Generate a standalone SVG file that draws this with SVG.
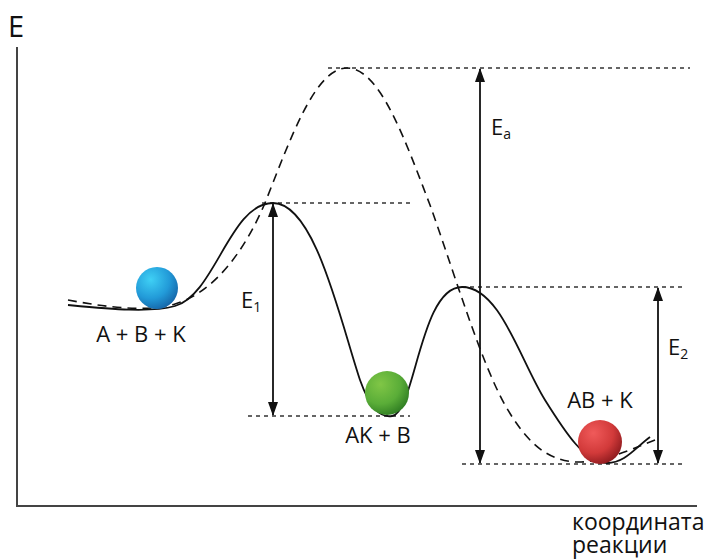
<svg xmlns="http://www.w3.org/2000/svg" width="707" height="559" viewBox="0 0 707 559">
<defs>
<style>
.axis{stroke:#444;stroke-width:2;fill:none}
.dot{stroke:#333;stroke-width:1.3;stroke-dasharray:4 4;fill:none}
.solid{stroke:#111;stroke-width:1.8;fill:none}
.dash{stroke:#111;stroke-width:1.6;stroke-dasharray:9 6;fill:none}
.arr{stroke:#111;stroke-width:1.8;fill:none;marker-start:url(#ah);marker-end:url(#ah)}
text{font-family:"Open Sans","Noto Sans","DejaVu Sans",sans-serif;fill:#111}
.lbl{font-size:22px}
.sub{font-size:14px}
</style>
<marker id="ah" viewBox="0 0 14 10" refX="13" refY="5" markerWidth="14" markerHeight="10" markerUnits="userSpaceOnUse" orient="auto-start-reverse">
<path d="M0,0 L14,5 L0,10 Z" fill="#111"/>
</marker>
<radialGradient id="gBlue" cx="0.35" cy="0.3" r="0.75">
<stop offset="0" stop-color="#3fd0f5"/>
<stop offset="0.6" stop-color="#229ad8"/>
<stop offset="1" stop-color="#1565a8"/>
</radialGradient>
<radialGradient id="gGreen" cx="0.35" cy="0.3" r="0.75">
<stop offset="0" stop-color="#80c646"/>
<stop offset="0.6" stop-color="#5aad38"/>
<stop offset="1" stop-color="#2f7d22"/>
</radialGradient>
<radialGradient id="gRed" cx="0.35" cy="0.3" r="0.75">
<stop offset="0" stop-color="#f05a5a"/>
<stop offset="0.6" stop-color="#d23a3a"/>
<stop offset="1" stop-color="#8e1a1e"/>
</radialGradient>
</defs>
<g id="axes">
<path class="axis" d="M17,47 L17,506 L697,506"/>
<text x="8" y="37" style="font-size:29px">E</text>
<text x="572" y="530" style="font-size:23px">координата<tspan x="572" dy="23">реакции</tspan></text>
</g>
<g id="levels">
<line class="dot" x1="328" y1="68" x2="690" y2="68"/>
<line class="dot" x1="262" y1="203" x2="410" y2="203"/>
<line class="dot" x1="248" y1="416" x2="410" y2="416"/>
<line class="dot" x1="462" y1="287" x2="683" y2="287"/>
<line class="dot" x1="462" y1="464" x2="683" y2="464"/>
</g>
<g id="curves">
<path class="dash" d="M68,300 C100,306 145,313 175,304 C215,292 245,250 265,203 C290,140 315,68 347,68 C380,68 405,140 430,205 C455,275 480,360 505,405 C525,440 545,460 575,462 C600,463 625,452 655,440"/>
<path class="solid" d="M68,305 C110,309 150,313 175,306 C215,295 230,203 273,203 C315,203 340,320 360,380 C370,408 380,418 392,416 C415,413 420,287 462,287 C500,287 520,360 545,400 C565,432 585,463 607,463 C625,463 635,448 650,437"/>
</g>
<g id="connectors">
<line class="arr" x1="480" y1="69" x2="480" y2="463"/>
<line class="arr" x1="273" y1="204" x2="273" y2="415"/>
<line class="arr" x1="658" y1="288" x2="658" y2="463"/>
</g>
<g id="labels">
<text class="lbl" x="491" y="135">E<tspan class="sub" dy="4">a</tspan></text>
<text class="lbl" x="241" y="308">E<tspan class="sub" dy="4">1</tspan></text>
<text class="lbl" x="668" y="355">E<tspan class="sub" dy="4">2</tspan></text>
</g>
<g id="node-ABK">
<circle cx="157" cy="288" r="21" fill="url(#gBlue)"/>
<text class="lbl" x="141" y="342" text-anchor="middle">A + B + K</text>
</g>
<g id="node-AKB">
<circle cx="387" cy="393" r="22" fill="url(#gGreen)"/>
<text class="lbl" x="378" y="443" text-anchor="middle">AK + B</text>
</g>
<g id="node-ABK2">
<circle cx="600" cy="442" r="22" fill="url(#gRed)"/>
<text class="lbl" x="600" y="408" text-anchor="middle">AB + K</text>
</g>
</svg>
